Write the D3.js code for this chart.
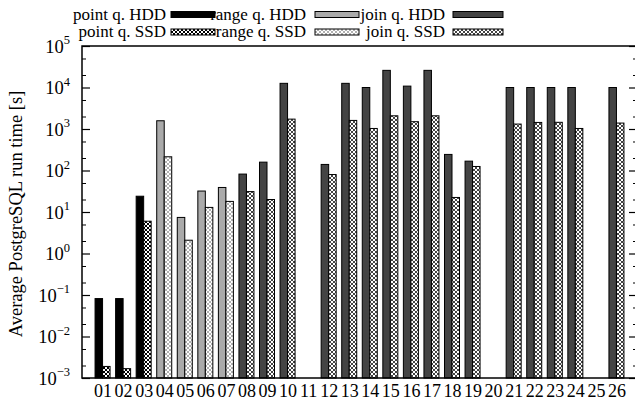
<!DOCTYPE html>
<html>
<head>
<meta charset="utf-8">
<script src="https://cdn.jsdelivr.net/npm/d3@7"></script>
<style>
  body { margin: 0; background: #fff; }
  text { font-family: "Liberation Serif", "Times New Roman", serif; fill: #000; }
</style>
</head>
<body>
<div id="chart"></div>
<script>
// data
const categories = ["01","02","03","04","05","06","07","08","09","10","11","12","13",
  "14","15","16","17","18","19","20","21","22","23","24","25","26"];
const queryType = ["point","point","point","range","range","range","range","join","join","join",
  "join","join","join","join","join","join","join","join","join","join","join","join","join","join","join","join"];
const hddValues = [0.082, 0.082, 24, 1580, 7.4, 32, 39, 82, 159, 12600, null, 140, 12600,
  10000, 25900, 10800, 25900, 244, 168, null, 10000, 10000, 10000, 10000, null, 10000];
const ssdValues = [0.0019, 0.00168, 6.0, 214, 2.09, 12.9, 18, 31, 20, 1730, null, 80, 1610,
  1030, 2080, 1500, 2080, 22.4, 125, null, 1315, 1440, 1450, 1030, null, 1390];
const yExponents = [-3, -2, -1, 0, 1, 2, 3, 4, 5];
const minorMultipliers = [2, 5];
const legendRows = [
  ["point q. HDD", "range q. HDD", "join q. HDD"],
  ["point q. SSD", "range q. SSD", "join q. SSD"]
];

const width = 635, height = 408;
const plot = { left: 82, right: 637, top: 46, bottom: 378 };

const hddFill = { point: "#000000", range: "#aaaaaa", join: "#444444" };
const ssdInk  = { point: "#000000", range: "#b0b0b0", join: "#444444" };

const svg = d3.select("#chart").append("svg")
  .attr("width", width)
  .attr("height", height);

// crosshatch patterns for the SSD bars
const defs = svg.append("defs");
Object.keys(ssdInk).forEach(k => {
  const p = defs.append("pattern")
    .attr("id", "hatch-" + k)
    .attr("patternUnits", "userSpaceOnUse")
    .attr("width", 4).attr("height", 4);
  p.append("rect").attr("width", 4).attr("height", 4).attr("fill", "#fff");
  p.append("path")
    .attr("d", "M0,0L4,4M4,0L0,4")
    .attr("stroke", ssdInk[k])
    .attr("stroke-width", 1);
});

const x = d3.scaleLinear().domain([0, categories.length + 1]).range([plot.left, plot.right]);
const y = d3.scaleLog().domain([1e-3, 1e5]).range([plot.bottom, plot.top]);

const majorTicks = yExponents.map(e => Math.pow(10, e));
const minorTicks = [];
yExponents.slice(0, -1).forEach(e => minorMultipliers.forEach(m => minorTicks.push(m * Math.pow(10, e))));

// left axis, ticks pointing in
const left = svg.append("g")
  .attr("transform", `translate(${plot.left},0)`)
  .call(d3.axisLeft(y).tickValues(majorTicks).tickSize(-8).tickPadding(12));
left.select(".domain").remove();
left.selectAll(".tick line").attr("stroke", "#000").attr("stroke-width", 1.2);
left.selectAll(".tick text")
  .attr("font-size", 18.5)
  .attr("dy", "0.35em")
  .text(null)
  .each(function(d) {
    const t = d3.select(this);
    t.append("tspan").text("10");
    t.append("tspan")
      .attr("font-size", 12.5)
      .attr("dy", "-0.7em")
      .text(String(Math.round(Math.log10(d))).replace("-", "\u2212"));
  });

svg.append("g")
  .attr("transform", `translate(${plot.left},0)`)
  .call(d3.axisLeft(y).tickValues(minorTicks).tickSize(-4).tickFormat(""))
  .call(g => g.select(".domain").remove())
  .selectAll(".tick line").attr("stroke", "#000");

// mirrored ticks on the right
svg.append("g")
  .attr("transform", `translate(${plot.right},0)`)
  .call(d3.axisRight(y).tickValues(majorTicks).tickSize(-8).tickFormat(""))
  .call(g => g.select(".domain").remove())
  .selectAll(".tick line").attr("stroke", "#000").attr("stroke-width", 1.2);
svg.append("g")
  .attr("transform", `translate(${plot.right},0)`)
  .call(d3.axisRight(y).tickValues(minorTicks).tickSize(-4).tickFormat(""))
  .call(g => g.select(".domain").remove())
  .selectAll(".tick line").attr("stroke", "#000");

// bottom axis labels
const bottom = svg.append("g")
  .attr("transform", `translate(0,${plot.bottom})`)
  .call(d3.axisBottom(x)
    .tickValues(d3.range(1, categories.length + 1))
    .tickSize(0).tickPadding(6)
    .tickFormat(i => categories[i - 1]));
bottom.select(".domain").remove();
bottom.selectAll(".tick text").attr("font-size", 18);

// bars
const bw = x(0.365) - x(0);
const rows = categories.map((c, i) => ({ i: i + 1, type: queryType[i], hdd: hddValues[i], ssd: ssdValues[i] }));

svg.append("g").selectAll("rect")
  .data(rows.filter(d => d.hdd != null))
  .join("rect")
    .attr("x", d => x(d.i) - bw)
    .attr("y", d => y(d.hdd))
    .attr("width", bw)
    .attr("height", d => y(1e-3) - y(d.hdd))
    .attr("fill", d => hddFill[d.type])
    .attr("stroke", "#000")
    .attr("stroke-width", 1);

svg.append("g").selectAll("rect")
  .data(rows.filter(d => d.ssd != null))
  .join("rect")
    .attr("x", d => x(d.i))
    .attr("y", d => y(d.ssd))
    .attr("width", bw)
    .attr("height", d => y(1e-3) - y(d.ssd))
    .attr("fill", d => `url(#hatch-${d.type})`)
    .attr("stroke", "#000")
    .attr("stroke-width", 1);

// frame
svg.append("rect")
  .attr("x", plot.left).attr("y", plot.top)
  .attr("width", plot.right - plot.left)
  .attr("height", plot.bottom - plot.top)
  .attr("fill", "none")
  .attr("stroke", "#000")
  .attr("stroke-width", 1.5);

// y label
svg.append("text")
  .attr("transform", `translate(22,${(plot.top + plot.bottom) / 2 + 2}) rotate(-90)`)
  .attr("text-anchor", "middle")
  .attr("font-size", 18.5)
  .text("Average PostgreSQL run time [s]");

// legend (two rows, three columns)
const keyTextEnd = [166, 306, 445];
const keySampleX = [171, 315, 453];
const keySampleW = [44, 44, 50];
const keyRowY = [14.5, 32];
const types = ["point", "range", "join"];
legendRows.forEach((row, r) => {
  row.forEach((label, c) => {
    svg.append("text")
      .attr("x", keyTextEnd[c])
      .attr("y", keyRowY[r])
      .attr("dy", "0.32em")
      .attr("text-anchor", "end")
      .attr("font-size", 17)
      .text(label);
    svg.append("rect")
      .attr("x", keySampleX[c])
      .attr("y", keyRowY[r] - 3)
      .attr("width", keySampleW[c])
      .attr("height", 6)
      .attr("fill", r === 0 ? hddFill[types[c]] : `url(#hatch-${types[c]})`)
      .attr("stroke", "#000")
      .attr("stroke-width", 1);
  });
});
</script>
</body>
</html>
